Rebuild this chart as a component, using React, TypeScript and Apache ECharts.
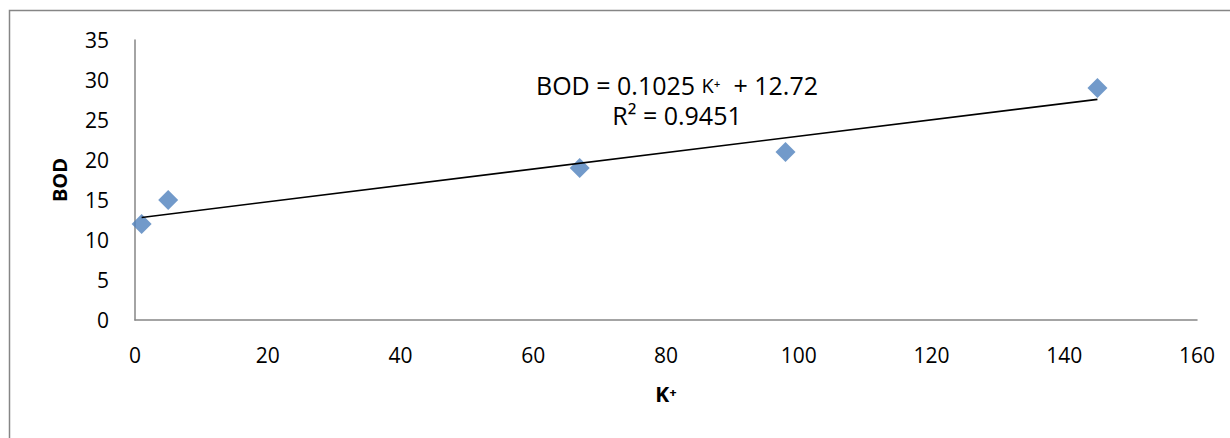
import React, { useEffect, useRef } from "react";
import * as echarts from "echarts";

const kValues = [1, 5, 67, 98, 145];
const bodValues = [12, 15, 19, 21, 29];
const slope = 0.1025;
const intercept = 12.72;
const trendX = [1, 145];
const equationText = "{a|BOD = 0.1025 }{k|K\u207A}{a|  + 12.72}";
const r2Text = "R\u00B2 = 0.9451";

export default function App() {
  const ref = useRef<HTMLDivElement>(null);
  useEffect(() => {
    document.body.style.margin = "0";
    const chart = echarts.init(ref.current!, null, { renderer: "svg" });
    const font = "Open Sans, Liberation Sans, sans-serif";
    chart.setOption({
      animation: false,
      backgroundColor: "#fff",
      grid: { left: 135, top: 40, width: 1062, height: 280 },
      xAxis: {
        type: "value",
        min: 0,
        max: 160,
        interval: 20,
        name: "K\u207A",
        nameLocation: "middle",
        nameGap: 63,
        nameTextStyle: { fontFamily: font, fontSize: 21, fontWeight: "bold", color: "#000" },
        axisLine: { show: true, lineStyle: { color: "#868686", width: 1.5 } },
        axisTick: { show: false },
        splitLine: { show: false },
        axisLabel: { fontFamily: font, fontSize: 21, color: "#000", margin: 24 },
      },
      yAxis: {
        type: "value",
        min: 0,
        max: 35,
        interval: 5,
        name: "BOD",
        nameLocation: "middle",
        nameGap: 66,
        nameTextStyle: { fontFamily: font, fontSize: 20, fontWeight: "bold", color: "#000" },
        axisLine: { show: true, lineStyle: { color: "#868686", width: 1.5 } },
        axisTick: { show: false },
        splitLine: { show: false },
        axisLabel: { fontFamily: font, fontSize: 21, color: "#000", margin: 26 },
      },
      graphic: [
        {
          type: "rect",
          shape: { x: 9.5, y: 10.5, width: 1300, height: 500 },
          style: { fill: "none", stroke: "#868686", lineWidth: 1.5 },
          silent: true,
          z: -1,
        },
        {
          type: "text",
          x: 677,
          y: 85,
          style: {
            text: equationText,
            align: "center",
            verticalAlign: "middle",
            rich: {
              a: { fontFamily: font, fontSize: 25, fill: "#000" },
              k: { fontFamily: font, fontSize: 20, fill: "#000" },
            },
          },
        },
        {
          type: "text",
          x: 677,
          y: 115,
          style: { text: r2Text, fontFamily: font, fontSize: 25, fill: "#000", align: "center", verticalAlign: "middle" },
        },
      ],
      series: [
        {
          type: "line",
          data: trendX.map((x) => [x, slope * x + intercept]),
          showSymbol: false,
          lineStyle: { color: "#000", width: 1.6 },
          z: 3,
        },
        {
          type: "scatter",
          data: kValues.map((k, i) => [k, bodValues[i]]),
          symbol: "diamond",
          symbolSize: [20, 20],
          itemStyle: { color: "#4F81BD" },
          z: 2,
        },
      ],
    });
    return () => chart.dispose();
  }, []);
  return <div ref={ref} style={{ width: 1230, height: 438 }} />;
}
